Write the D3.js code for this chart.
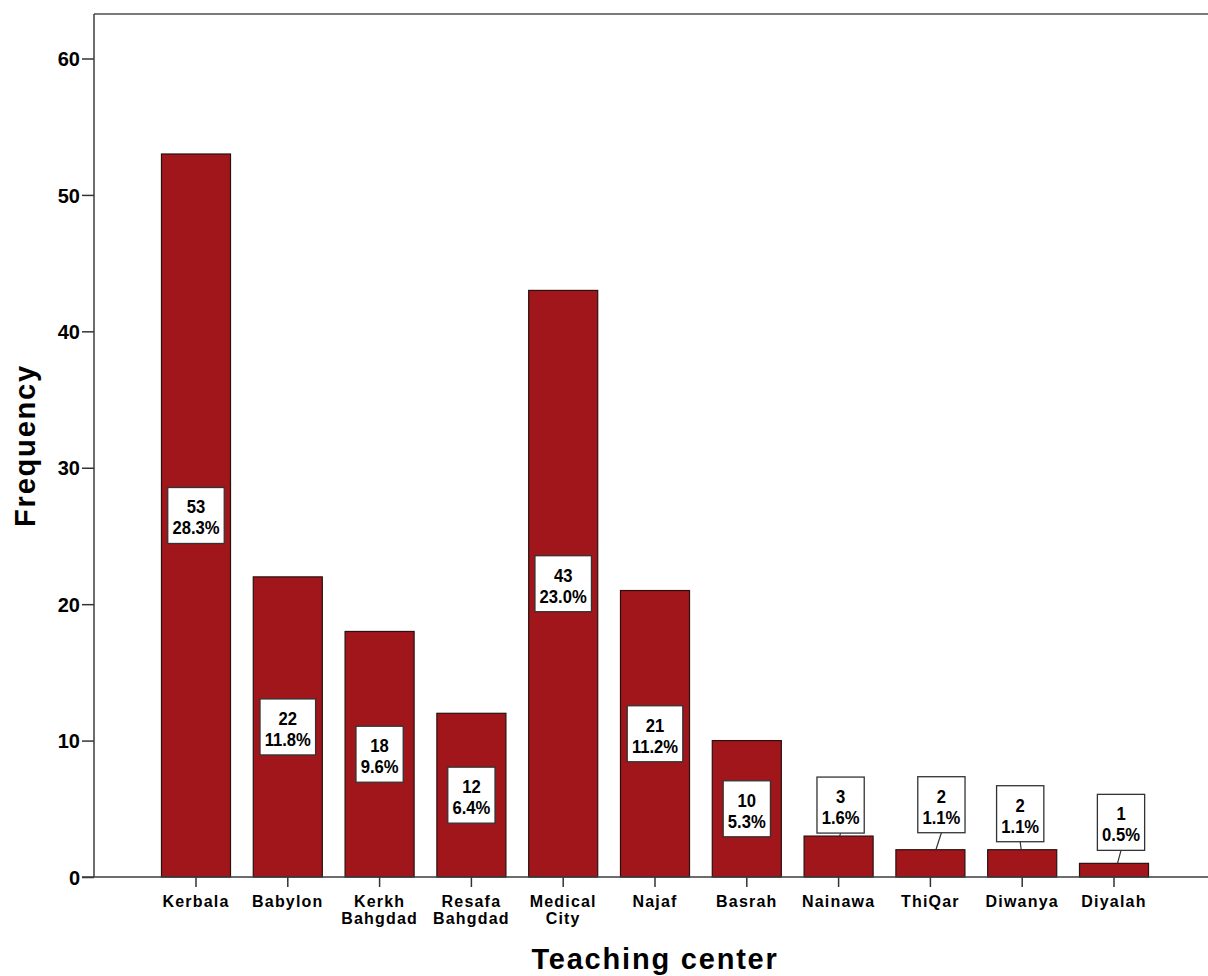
<!DOCTYPE html>
<html>
<head>
<meta charset="utf-8">
<script src="https://cdn.jsdelivr.net/npm/d3@7"></script>
<style>
  body { margin: 0; background: #fff; }
  text { font-family: "Liberation Sans", Arial, sans-serif; font-weight: bold; fill: #000; }
</style>
</head>
<body>
<svg id="chart" width="1208" height="976"></svg>
<script>
// teaching centers and their frequencies
const categories = ["Kerbala", "Babylon", "Kerkh Bahgdad", "Resafa Bahgdad", "Medical City",
  "Najaf", "Basrah", "Nainawa", "ThiQar", "Diwanya", "Diyalah"];
const counts = [53, 22, 18, 12, 43, 21, 10, 3, 2, 2, 1];
const percents = ["28.3%", "11.8%", "9.6%", "6.4%", "23.0%", "11.2%", "5.3%", "1.6%", "1.1%", "1.1%", "0.5%"];
const yTicks = [0, 10, 20, 30, 40, 50, 60];

// label placement (null = label sits inside the bar)
const labelGap = [null, null, null, null, null, null, null, 3, 17, 8, 13];
const labelDx = [0, 0, 0, 0, 0, 0, 0, 2, 11, -2, 7];

const plotLeft = 94, plotTop = 14, plotBottom = 877, plotRight = 1216;
const boxH = 56;
const squeeze = 0.9; // SPSS labels use a narrow face

const svg = d3.select("#chart");

const x = d3.scaleBand()
  .domain(categories)
  .range([plotLeft, plotRight])
  .paddingInner(0.248)
  .paddingOuter(0.735);

const y = d3.scaleLinear()
  .domain([0, 60])
  .range([plotBottom, 58.5]);

// frame
svg.append("line")
  .attr("x1", plotLeft).attr("x2", 1208)
  .attr("y1", plotTop).attr("y2", plotTop)
  .style("stroke", "#7a7a7a").style("stroke-width", 2);

// y axis
let yAxis = svg.append("g")
  .attr("transform", "translate(" + plotLeft + ",0)")
  .call(d3.axisLeft(y).tickValues(yTicks).tickSize(12).tickPadding(2).tickSizeOuter(0));
yAxis.select(".domain").remove();
yAxis.selectAll(".tick line").style("stroke", "#333").style("stroke-width", 1.5);
yAxis.selectAll(".tick text")
  .style("font-size", "20px")
  .style("font-family", "Liberation Sans, Arial, sans-serif")
  .style("font-weight", "bold")
  .attr("dy", "0.36em");
svg.append("line")
  .attr("x1", plotLeft).attr("x2", plotLeft)
  .attr("y1", plotTop).attr("y2", plotBottom)
  .style("stroke", "#3c3c3c").style("stroke-width", 1.5);

// bars
svg.append("g")
  .selectAll("rect")
  .data(counts)
  .enter().append("rect")
  .attr("x", (d, i) => x(categories[i]))
  .attr("y", d => y(d))
  .attr("width", x.bandwidth())
  .attr("height", d => plotBottom - y(d))
  .style("fill", "#a0161a")
  .style("stroke", "#2a1010")
  .style("stroke-width", 1.2);

// x axis
let xAxis = svg.append("g")
  .attr("transform", "translate(0," + plotBottom + ")")
  .call(d3.axisBottom(x).tickSize(10).tickSizeOuter(0).tickFormat(""));
xAxis.select(".domain").remove();
xAxis.selectAll(".tick line").style("stroke", "#333").style("stroke-width", 1.5);
svg.append("line")
  .attr("x1", plotLeft - 12).attr("x2", 1208)
  .attr("y1", plotBottom).attr("y2", plotBottom)
  .style("stroke", "#3c3c3c").style("stroke-width", 1.5);

let catLabels = svg.append("g")
  .selectAll("text")
  .data(categories)
  .enter().append("text")
  .attr("text-anchor", "middle")
  .style("font-size", "16px")
  .style("letter-spacing", "1.2px")
  .attr("transform", d => "translate(" + (x(d) + x.bandwidth() / 2) + ",907)");
catLabels.each(function (d) {
  let lines = d.split(" ");
  d3.select(this).selectAll("tspan")
    .data(lines)
    .enter().append("tspan")
    .attr("x", 0)
    .attr("y", (l, j) => j * 17)
    .text(l => l);
});

// value labels
let labels = svg.append("g")
  .selectAll("g")
  .data(counts)
  .enter().append("g");

labels.each(function (d, i) {
  let g = d3.select(this);
  let cx = x(categories[i]) + x.bandwidth() / 2;
  let boxTop;
  let bx = cx + labelDx[i];
  if (labelGap[i] === null) {
    boxTop = (y(d) + plotBottom) / 2 - boxH / 2;
  } else {
    boxTop = y(d) - labelGap[i] - boxH;
    g.append("line")
      .attr("x1", bx).attr("y1", boxTop + boxH)
      .attr("x2", (bx + cx) / 2).attr("y2", y(d))
      .style("stroke", "#333").style("stroke-width", 1.2);
  }
  let rect = g.append("rect");
  let t = g.append("text")
    .attr("text-anchor", "middle")
    .attr("transform", "translate(" + bx + "," + boxTop + ") scale(" + squeeze + ",1)")
    .style("font-size", "18.5px");
  t.append("tspan").attr("x", 0).attr("y", 26).text(d);
  t.append("tspan").attr("x", 0).attr("y", 47).text(percents[i]);
  let w = t.node().getBBox().width * squeeze + 9;
  rect.attr("x", bx - w / 2).attr("y", boxTop)
    .attr("width", w).attr("height", boxH)
    .style("fill", "#fff").style("stroke", "#333").style("stroke-width", 1.3);
});

// axis titles
svg.append("text")
  .attr("x", (plotLeft + plotRight) / 2)
  .attr("y", 969)
  .attr("text-anchor", "middle")
  .style("font-size", "29px")
  .style("letter-spacing", "1.8px")
  .text("Teaching center");

svg.append("text")
  .attr("transform", "translate(35," + (plotTop + plotBottom) / 2 + ") rotate(-90)")
  .attr("text-anchor", "middle")
  .style("font-size", "29px")
  .style("letter-spacing", "1.8px")
  .text("Frequency");
</script>
</body>
</html>
